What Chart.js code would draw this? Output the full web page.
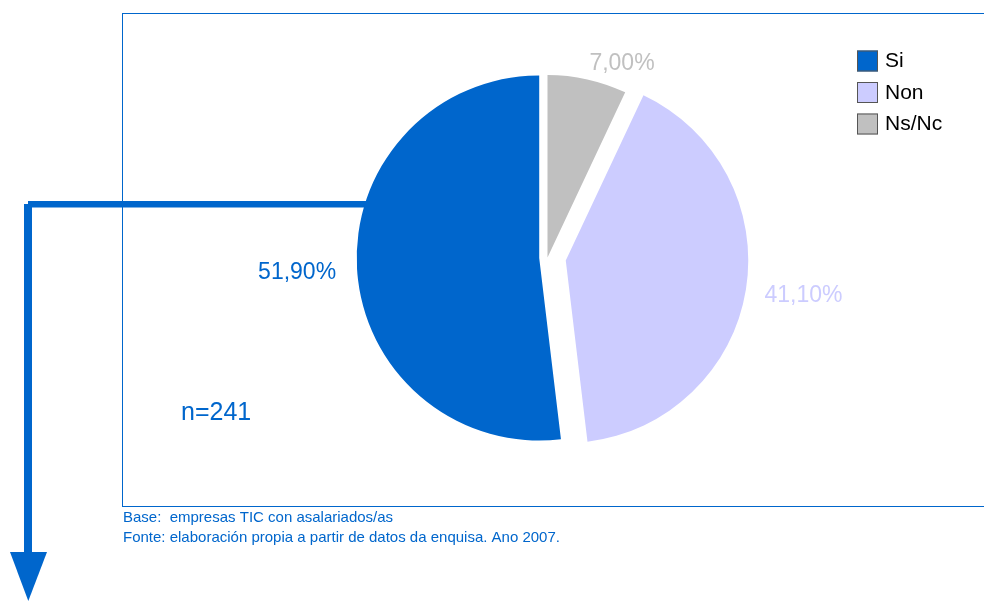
<!DOCTYPE html>
<html>
<head>
<meta charset="utf-8">
<title>Empresas TIC</title>
<script src="https://cdn.jsdelivr.net/npm/chart.js@4.4.1/dist/chart.umd.min.js"></script>
<style>
  body{margin:0;background:#ffffff;}
  #grafico{display:block;}
</style>
</head>
<body>
<canvas id="grafico" width="984" height="601"></canvas>
<script>
// Datos (orden horario desde arriba, como en el original)
var categorias = ["Ns/Nc", "Non", "Si"];
var porcentajes = [7.00, 41.10, 51.90];
var muestra = "n=241";
var notas = [
    "Base:  empresas TIC con asalariados/as",
    "Fonte: elaboración propia a partir de datos da enquisa. Ano 2007."
];

// Estilo
var colores = ["#c0c0c0", "#ccccff", "#0066cc"];
var separacion = [0, 18.5, 8.3]; //px que se separa cada porcion
var AZUL = "#0066cc";
var FUENTE = "'Liberation Sans', Arial, sans-serif";

function formato(v){
    return v.toFixed(2).replace(".", ",") + "%";
}

var pluginTarta = {
    id: "tarta",
    beforeDatasetsDraw: function(chart){
        var ctx = chart.ctx;
        var area = chart.chartArea;
        var cx = (area.left + area.right) / 2;
        var cy = (area.top + area.bottom) / 2;

        //Separamos las porciones en la direccion de su angulo medio
        chart.getDatasetMeta(0).data.forEach(function(arco, i){
            var medio = (arco.startAngle + arco.endAngle) / 2;
            arco.x = cx + Math.cos(medio) * separacion[i];
            arco.y = cy + Math.sin(medio) * separacion[i];
        });

        ctx.save();
        //Marco
        ctx.strokeStyle = AZUL;
        ctx.lineWidth = 1;
        ctx.strokeRect(122.5, 13.5, 900, 493);

        //Flecha (queda debajo de la tarta)
        ctx.fillStyle = AZUL;
        ctx.fillRect(28, 201, 420, 6.5);
        ctx.fillRect(24, 204, 8, 350);
        ctx.beginPath();
        ctx.moveTo(10, 552);
        ctx.lineTo(47, 552);
        ctx.lineTo(28.3, 601);
        ctx.closePath();
        ctx.fill();
        ctx.restore();
    },
    afterDraw: function(chart){
        var ctx = chart.ctx;
        var meta = chart.getDatasetMeta(0);
        ctx.save();

        //Etiquetas de porcentaje fuera de cada porcion
        ctx.font = "23px " + FUENTE;
        ctx.textBaseline = "alphabetic";
        ctx.textAlign = "left";
        var alto = 0.716 * 23;
        meta.data.forEach(function(arco, i){
            var medio = (arco.startAngle + arco.endAngle) / 2;
            var c = Math.cos(medio), s = Math.sin(medio);
            var d = arco.outerRadius + 9 + 10 * c * c;
            var texto = formato(porcentajes[i]);
            var w = ctx.measureText(texto).width;
            var px = arco.x + c * d + (c >= 0 ? 0 : -w);
            var py = arco.y + s * d + s * alto / 2 + alto / 2;
            ctx.fillStyle = colores[i];
            ctx.fillText(texto, px - (c >= 0 ? 0 : 2), py);
        });

        //n
        ctx.fillStyle = AZUL;
        ctx.font = "25px " + FUENTE;
        ctx.fillText(muestra, 181, 420);

        //Leyenda (orden inverso: Si, Non, Ns/Nc)
        ctx.font = "21px " + FUENTE;
        ctx.textBaseline = "middle";
        var orden = categorias.slice().reverse();
        orden.forEach(function(nombre, k){
            var i = categorias.indexOf(nombre);
            var y = 50.5 + k * 31.5;
            ctx.fillStyle = colores[i];
            ctx.fillRect(857, y, 21, 21);
            ctx.strokeStyle = "#555555";
            ctx.lineWidth = 1;
            ctx.strokeRect(857.5, y + 0.5, 20, 20);
            ctx.fillStyle = "#000000";
            ctx.fillText(nombre, 885, y + 11);
        });

        //Notas al pie
        ctx.fillStyle = AZUL;
        ctx.font = "15px " + FUENTE;
        ctx.fillText(notas[0], 123, 518);
        ctx.fillText(notas[1], 123, 538);
        ctx.restore();
    }
};

new Chart(document.getElementById("grafico"), {
    type: "pie",
    data: {
        labels: categorias,
        datasets: [{
            data: porcentajes,
            backgroundColor: colores,
            borderWidth: 0
        }]
    },
    options: {
        responsive: false,
        animation: false,
        layout: { padding: { left: 111, right: 0, top: 75, bottom: 161 } },
        plugins: {
            legend: { display: false },
            tooltip: { enabled: false }
        }
    },
    plugins: [pluginTarta]
});
</script>
</body>
</html>
